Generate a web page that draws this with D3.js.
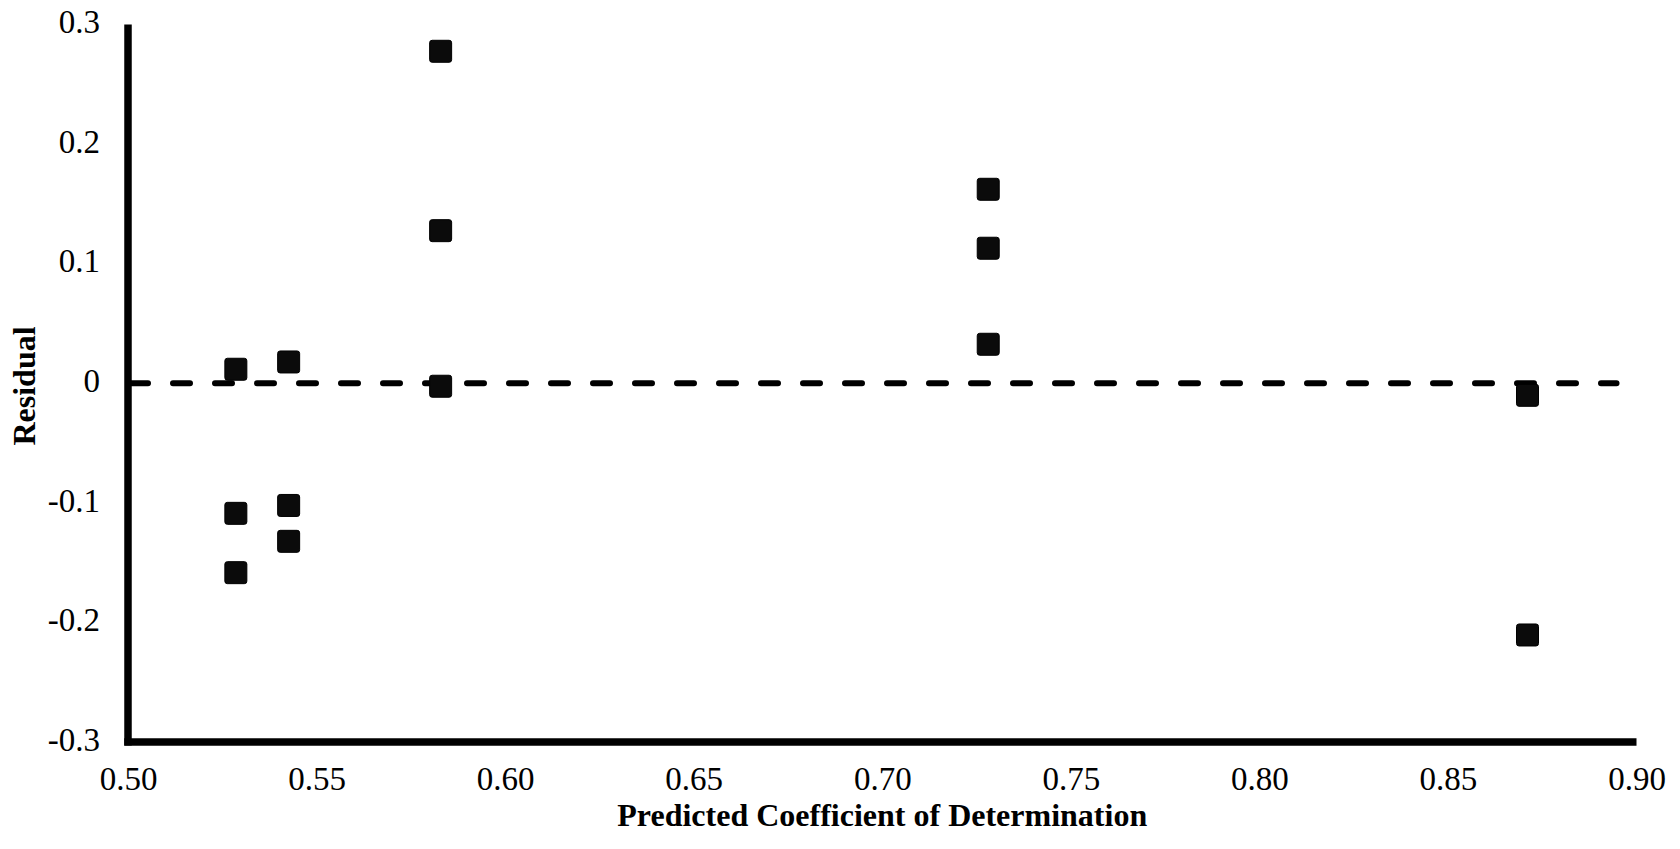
<!DOCTYPE html>
<html>
<head>
<meta charset="utf-8">
<script src="https://cdn.jsdelivr.net/npm/d3@7"></script>
<style>
  html, body { margin: 0; padding: 0; background: #fff; }
  svg { display: block; }
  text { font-family: "Liberation Serif", "Times New Roman", serif; fill: #000; }
</style>
</head>
<body>
<svg id="chart" width="1680" height="849"></svg>
<script>
// ---- data ----
const predictedR2 = [0.5286, 0.5286, 0.5286, 0.5426, 0.5426, 0.5426,
                     0.5829, 0.5829, 0.5829, 0.7281, 0.7281, 0.7281,
                     0.8711, 0.8711];
const residuals   = [0.0117, -0.1088, -0.1584, 0.0178, -0.1022, -0.1322,
                     0.2776, 0.1276, -0.0025, 0.1622, 0.1129, 0.0326,
                     -0.0101, -0.2105];
const xTicks = [0.50, 0.55, 0.60, 0.65, 0.70, 0.75, 0.80, 0.85, 0.90];
const yTicks = [-0.3, -0.2, -0.1, 0, 0.1, 0.2, 0.3];
const yTickLabels = ["-0.3", "-0.2", "-0.1", "0", "0.1", "0.2", "0.3"];
const zeroLineExtent = [0.5, 0.8955];
const xTitle = "Predicted Coefficient of Determination";
const yTitle = "Residual";

const points = predictedR2.map((x, i) => ({ x, y: residuals[i] }));

const svg = d3.select("#chart");
const x = d3.scaleLinear().domain([0.5, 0.9]).range([128, 1636.5]);
const y = d3.scaleLinear().domain([-0.3, 0.3]).range([742, 24.5]);

// zero reference dashed line
svg.append("line")
  .attr("x1", x(zeroLineExtent[0]) + 3).attr("x2", x(zeroLineExtent[1]) - 3)
  .attr("y1", y(0)).attr("y2", y(0))
  .attr("stroke", "#000").attr("stroke-width", 6)
  .attr("stroke-linecap", "round")
  .attr("stroke-dasharray", "17,25");

// markers
const s = 22;
svg.append("g").selectAll("rect").data(points).join("rect")
  .attr("x", d => x(d.x) - s / 2)
  .attr("y", d => y(d.y) - s / 2)
  .attr("width", s).attr("height", s)
  .attr("rx", 2.5).attr("ry", 2.5)
  .attr("fill", "#0b0b0b").attr("stroke", "#000").attr("stroke-width", 1);

// x axis
const xAxis = svg.append("g").attr("transform", `translate(0,${y(-0.3)})`)
  .call(d3.axisBottom(x).tickValues(xTicks).tickFormat(d3.format(".2f")).tickSize(0).tickPadding(0));
xAxis.select(".domain").remove();
xAxis.selectAll("text")
  .attr("font-family", "Liberation Serif, Times New Roman, serif")
  .attr("font-size", 33).attr("dy", null).attr("y", 48);

// y axis
const yAxis = svg.append("g").attr("transform", `translate(${x(0.5)},0)`)
  .call(d3.axisLeft(y).tickValues(yTicks).tickFormat((d, i) => yTickLabels[i]).tickSize(0).tickPadding(0));
yAxis.select(".domain").remove();
yAxis.selectAll("text")
  .attr("font-family", "Liberation Serif, Times New Roman, serif")
  .attr("font-size", 33).attr("x", -28).attr("dy", "0.25em");

// axis lines
svg.append("line")
  .attr("x1", x(0.5)).attr("x2", x(0.5))
  .attr("y1", y(0.3)).attr("y2", y(-0.3) + 3.5)
  .attr("stroke", "#000").attr("stroke-width", 7.5);
svg.append("line")
  .attr("x1", x(0.5) - 3.75).attr("x2", x(0.9))
  .attr("y1", y(-0.3)).attr("y2", y(-0.3))
  .attr("stroke", "#000").attr("stroke-width", 7.5);

// titles
svg.append("text")
  .attr("x", (x(0.5) + x(0.9)) / 2).attr("y", 826)
  .attr("text-anchor", "middle")
  .attr("font-size", 32).attr("font-weight", "bold")
  .text(xTitle);
svg.append("text")
  .attr("transform", `translate(35,${386}) rotate(-90)`)
  .attr("text-anchor", "middle")
  .attr("font-size", 32).attr("font-weight", "bold")
  .text(yTitle);
</script>
</body>
</html>
